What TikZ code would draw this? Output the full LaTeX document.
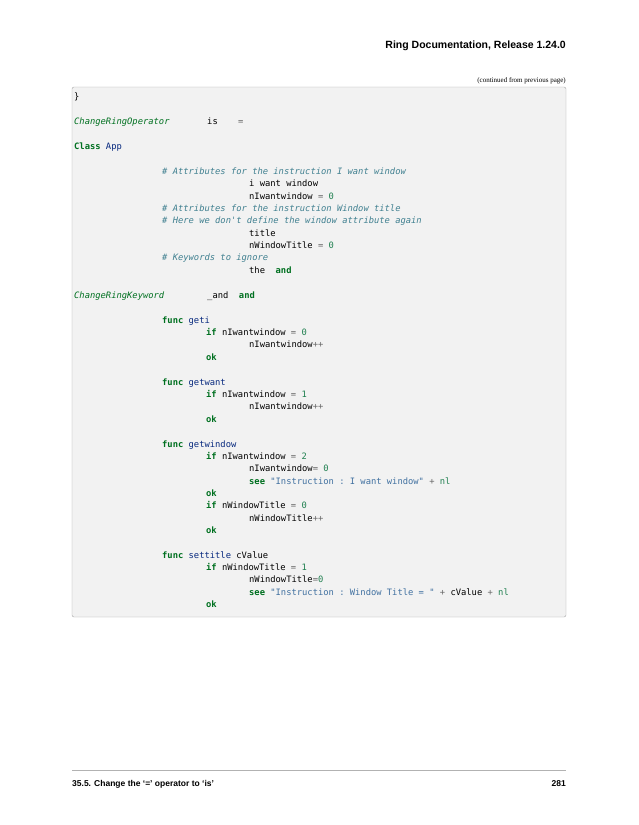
\documentclass[tikz,border=0pt]{standalone}
\usepackage{fontspec}
\setmainfont{Liberation Serif}
\setsansfont{Liberation Sans}
\setmonofont{DejaVu Sans Mono}
\definecolor{kwc}{HTML}{007020}
\definecolor{fnc}{HTML}{06287E}
\definecolor{cmc}{HTML}{408090}
\definecolor{nmc}{HTML}{208050}
\definecolor{opc}{HTML}{666666}
\definecolor{stc}{HTML}{4070A0}
\definecolor{boxfill}{HTML}{F2F2F2}
\newcommand{\rkw}[1]{\textcolor{kwc}{\bfseries #1}}
\newcommand{\rfn}[1]{\textcolor{fnc}{#1}}
\newcommand{\rcm}[1]{\textcolor{cmc}{\itshape #1}}
\newcommand{\rnm}[1]{\textcolor{nmc}{#1}}
\newcommand{\rop}[1]{\textcolor{opc}{#1}}
\newcommand{\rst}[1]{\textcolor{stc}{#1}}
\newcommand{\rgr}[1]{\textcolor{kwc}{\itshape #1}}
\begin{document}
\begin{tikzpicture}[x=1pt,y=-1pt,
  code/.style={anchor=base west,inner sep=0pt,font=\ttfamily\fontsize{8.8}{10}\selectfont,text=black}]
\useasboundingbox (0,0) rectangle (638,825);
\node[anchor=base east,inner sep=0pt,font=\sffamily\bfseries\fontsize{10.5}{12}\selectfont] (hdr) at (566,48) {Ring Documentation, Release 1.24.0};
\node[anchor=base east,inner sep=0pt,font=\fontsize{7}{8}\selectfont] (cont) at (566,82) {(continued from previous page)};
\draw[gray!70,fill=boxfill,rounded corners=2pt] (72,87) rectangle (566,617);
\node[code] (l1) at (74,99) {\}};
\node[code] (l2) at (74,124) {\rgr{ChangeRingOperator}};
\node[code] (l2b) at (207,124) {is};
\node[code] (l2c) at (238,124) {\rop{=}};
\node[code] (l3) at (74,149) {\rkw{Class} \rfn{App}};
\node[code] (l4) at (162,174) {\rcm{\# Attributes for the instruction I want window}};
\node[code] (l5) at (249,186) {i want window};
\node[code] (l6) at (249,199) {nIwantwindow \rop{=} \rnm{0}};
\node[code] (l7) at (162,211) {\rcm{\# Attributes for the instruction Window title}};
\node[code] (l8) at (162,223) {\rcm{\# Here we don't define the window attribute again}};
\node[code] (l9) at (249,236) {title};
\node[code] (l10) at (249,248) {nWindowTitle \rop{=} \rnm{0}};
\node[code] (l11) at (162,260) {\rcm{\# Keywords to ignore}};
\node[code] (l12) at (249,273) {the\ \ \rkw{and}};
\node[code] (l13) at (74,298) {\rgr{ChangeRingKeyword}};
\node[code] (l13b) at (207,298) {\_and\ \ \rkw{and}};
\node[code] (f1) at (162,323) {\rkw{func} \rfn{geti}};
\node[code] (f1a) at (206,335) {\rkw{if} nIwantwindow \rop{=} \rnm{0}};
\node[code] (f1b) at (249,347) {nIwantwindow\rop{++}};
\node[code] (f1c) at (206,360) {\rkw{ok}};
\node[code] (f2) at (162,385) {\rkw{func} \rfn{getwant}};
\node[code] (f2a) at (206,397) {\rkw{if} nIwantwindow \rop{=} \rnm{1}};
\node[code] (f2b) at (249,409) {nIwantwindow\rop{++}};
\node[code] (f2c) at (206,422) {\rkw{ok}};
\node[code] (f3) at (162,447) {\rkw{func} \rfn{getwindow}};
\node[code] (f3a) at (206,459) {\rkw{if} nIwantwindow \rop{=} \rnm{2}};
\node[code] (f3b) at (249,471) {nIwantwindow\rop{=} \rnm{0}};
\node[code] (f3c) at (249,484) {\rkw{see} \rst{"Instruction : I want window"} \rop{+} \rnm{nl}};
\node[code] (f3d) at (206,496) {\rkw{ok}};
\node[code] (f3e) at (206,508) {\rkw{if} nWindowTitle \rop{=} \rnm{0}};
\node[code] (f3f) at (249,521) {nWindowTitle\rop{++}};
\node[code] (f3g) at (206,533) {\rkw{ok}};
\node[code] (f4) at (162,558) {\rkw{func} \rfn{settitle} cValue};
\node[code] (f4a) at (206,570) {\rkw{if} nWindowTitle \rop{=} \rnm{1}};
\node[code] (f4b) at (249,582) {nWindowTitle\rop{=}\rnm{0}};
\node[code] (f4c) at (249,595) {\rkw{see} \rst{"Instruction : Window Title = "} \rop{+} cValue \rop{+} \rnm{nl}};
\node[code] (f4d) at (206,607) {\rkw{ok}};
\draw[gray!60,line width=0.5pt] (72,770) -- (566,770);
\node[anchor=base west,inner sep=0pt,font=\sffamily\bfseries\fontsize{8.5}{10}\selectfont] (ftl) at (72,786) {35.5. Change the ‘=’ operator to ‘is’};
\node[anchor=base east,inner sep=0pt,font=\sffamily\bfseries\fontsize{8.5}{10}\selectfont] (ftr) at (566,786) {281};
\end{tikzpicture}
\end{document}
